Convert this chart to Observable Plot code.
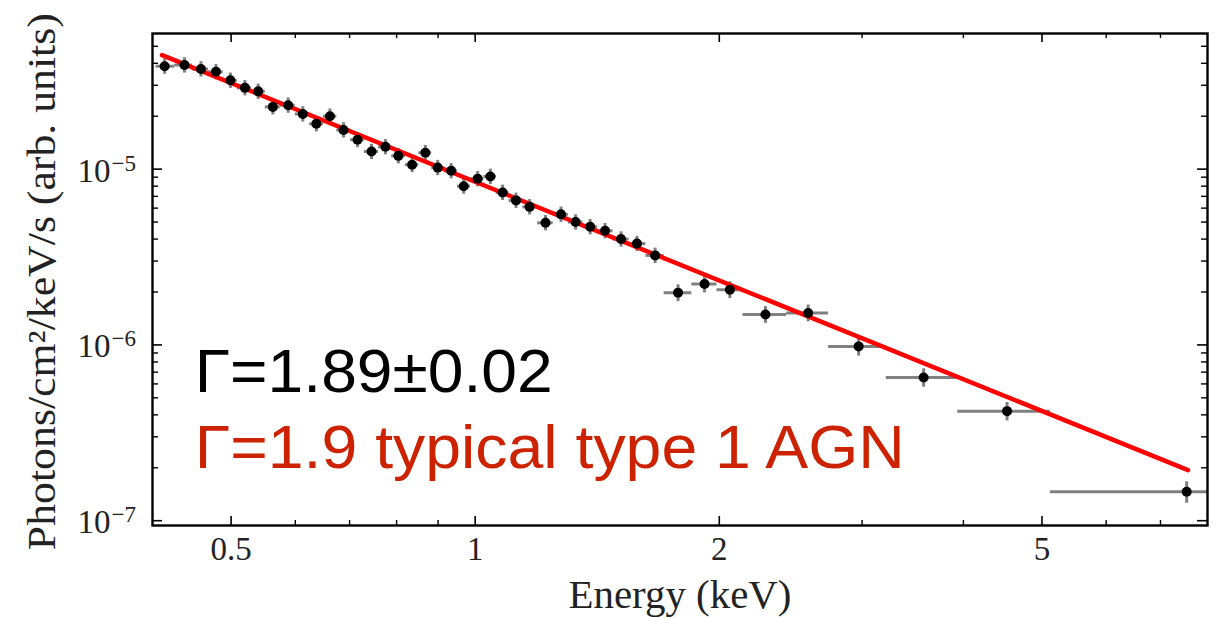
<!DOCTYPE html>
<html>
<head>
<meta charset="utf-8">
<script src="https://cdn.jsdelivr.net/npm/d3@7"></script>
<script src="https://cdn.jsdelivr.net/npm/@observablehq/plot@0.6"></script>
<style>
  html, body { margin: 0; padding: 0; background: #ffffff; }
  #chart svg { display: block; }
</style>
</head>
<body>
<div id="chart"></div>
<script>
// ---- data ----
const energy = [0.414, 0.438, 0.459, 0.479, 0.499, 0.520, 0.540, 0.563, 0.588, 0.613,
  0.637, 0.662, 0.688, 0.716, 0.745, 0.775, 0.804, 0.836, 0.868, 0.899,
  0.934, 0.968, 1.007, 1.044, 1.081, 1.123, 1.167, 1.221, 1.276, 1.330,
  1.386, 1.446, 1.513, 1.583, 1.667, 1.779, 1.918, 2.061, 2.280, 2.574,
  2.971, 3.573, 4.528, 7.541];
const flux = [3.85e-5, 3.91e-5, 3.71e-5, 3.58e-5, 3.20e-5, 2.90e-5, 2.77e-5, 2.26e-5, 2.31e-5, 2.06e-5,
  1.81e-5, 2.00e-5, 1.67e-5, 1.47e-5, 1.26e-5, 1.34e-5, 1.19e-5, 1.06e-5, 1.24e-5, 1.02e-5,
  9.78e-6, 8.00e-6, 8.81e-6, 9.09e-6, 7.37e-6, 6.64e-6, 6.10e-6, 4.95e-6, 5.53e-6, 5.00e-6,
  4.70e-6, 4.46e-6, 4.00e-6, 3.77e-6, 3.23e-6, 1.98e-6, 2.22e-6, 2.06e-6, 1.49e-6, 1.52e-6,
  9.81e-7, 6.53e-7, 4.20e-7, 1.46e-7];
const binEdges = [0.404, 0.426, 0.448, 0.469, 0.489, 0.509, 0.530, 0.551, 0.575, 0.600,
  0.625, 0.650, 0.675, 0.702, 0.730, 0.760, 0.789, 0.820, 0.852, 0.884,
  0.917, 0.951, 0.987, 1.025, 1.062, 1.101, 1.145, 1.194, 1.248, 1.303,
  1.358, 1.416, 1.479, 1.548, 1.624, 1.710, 1.850, 1.987, 2.139, 2.421,
  2.728, 3.213, 3.936, 5.121, 8.0];
const fracErr = [0.10, 0.10, 0.10, 0.10, 0.10, 0.10, 0.10, 0.10, 0.10, 0.10,
  0.10, 0.10, 0.10, 0.10, 0.10, 0.10, 0.10, 0.10, 0.10, 0.10,
  0.10, 0.10, 0.10, 0.10, 0.10, 0.10, 0.10, 0.10, 0.10, 0.10,
  0.10, 0.10, 0.10, 0.10, 0.10, 0.11, 0.11, 0.11, 0.11, 0.11,
  0.12, 0.12, 0.12, 0.14];
const modelEnergy = [0.411, 7.57];
const modelFlux = [4.45e-5, 1.94e-7];

const xMajorTicks = [0.5, 1, 2, 5];
const xMajorLabels = ["0.5", "1", "2", "5"];
const xMinorTicks = [0.6, 0.7, 0.8, 0.9, 3, 4, 6, 7];
const yMajorTicks = [1e-7, 1e-6, 1e-5];
const yMajorExponents = ["\u22127", "\u22126", "\u22125"];
const yMinorTicks = [2e-7, 3e-7, 4e-7, 5e-7, 6e-7, 7e-7, 8e-7, 9e-7,
  2e-6, 3e-6, 4e-6, 5e-6, 6e-6, 7e-6, 8e-6, 9e-6,
  2e-5, 3e-5, 4e-5, 5e-5];

const xTitle = "Energy (keV)";
const yTitle = "Photons/cm\u00B2/keV/s (arb. units)";
const fitText = "\u0393=1.89\u00B10.02";
const typicalText = "\u0393=1.9 typical type 1 AGN";

// ---- tables built from the arrays ----
const rows = energy.map((e, i) => ({
  e, f: flux[i], lo: binEdges[i], hi: binEdges[i + 1],
  f1: flux[i] * (1 - fracErr[i]), f2: flux[i] * (1 + fracErr[i])
}));
const model = modelEnergy.map((e, i) => ({e, f: modelFlux[i]}));

const W = 1223, H = 618;
const mL = 152, mR = 16, mT = 33, mB = 93;
const innerW = W - mL - mR, innerH = H - mT - mB;
const serif = "'Liberation Serif', 'DejaVu Serif', serif";
const sans = "'Liberation Sans', Arial, Helvetica, sans-serif";
const tickColor = "#000";

const svg = Plot.plot({
  width: W, height: H,
  marginLeft: mL, marginRight: mR, marginTop: mT, marginBottom: mB,
  style: {background: "#ffffff", overflow: "visible"},
  x: {type: "log", domain: [0.4, 8], axis: null},
  y: {type: "log", domain: [9.39e-8, 5.91e-5], axis: null},
  marks: [
    // error bars
    Plot.ruleY(rows, {y: "f", x1: "lo", x2: "hi", stroke: "#808080", strokeWidth: 3}),
    Plot.ruleX(rows, {x: "e", y1: "f1", y2: "f2", stroke: "#808080", strokeWidth: 3}),
    // model
    Plot.line(model, {x: "e", y: "f", stroke: "#ff0000", strokeWidth: 4.5}),
    // data points
    Plot.dot(rows, {x: "e", y: "f", r: 5, fill: "#000", stroke: "none"}),
    // inward ticks: bottom / top
    Plot.ruleX(xMajorTicks, {x: d => d, insetTop: innerH - 9, stroke: tickColor, strokeWidth: 1.6}),
    Plot.ruleX(xMajorTicks, {x: d => d, insetBottom: innerH - 9, stroke: tickColor, strokeWidth: 1.6}),
    Plot.ruleX(xMinorTicks, {x: d => d, insetTop: innerH - 5, stroke: tickColor, strokeWidth: 1.4}),
    Plot.ruleX(xMinorTicks, {x: d => d, insetBottom: innerH - 5, stroke: tickColor, strokeWidth: 1.4}),
    // inward ticks: left / right
    Plot.ruleY(yMajorTicks, {y: d => d, insetRight: innerW - 10, stroke: tickColor, strokeWidth: 1.6}),
    Plot.ruleY(yMajorTicks, {y: d => d, insetLeft: innerW - 10, stroke: tickColor, strokeWidth: 1.6}),
    Plot.ruleY(yMinorTicks, {y: d => d, insetRight: innerW - 6, stroke: tickColor, strokeWidth: 1.4}),
    Plot.ruleY(yMinorTicks, {y: d => d, insetLeft: innerW - 6, stroke: tickColor, strokeWidth: 1.4}),
    Plot.frame({stroke: "#000", strokeWidth: 2.4}),
    // tick labels
    Plot.text(xMajorTicks, {x: d => d, frameAnchor: "bottom", dy: 24, text: (d, i) => xMajorLabels[i],
      fontFamily: serif, fontSize: 33, lineAnchor: "middle", fill: "#222"}),
    Plot.text(yMajorTicks, {y: d => d, frameAnchor: "left", dx: -42, dy: 2, text: () => "10",
      textAnchor: "end", fontFamily: serif, fontSize: 33, lineAnchor: "middle", fill: "#222"}),
    Plot.text(yMajorTicks, {y: d => d, frameAnchor: "left", dx: -41, dy: -6, text: (d, i) => yMajorExponents[i],
      textAnchor: "start", fontFamily: serif, fontSize: 23, lineAnchor: "middle", fill: "#222"}),
    // axis titles
    Plot.text([xTitle], {frameAnchor: "bottom", dy: 70, text: d => d, fontFamily: serif, fontSize: 39,
      lineAnchor: "middle", fill: "#222"}),
    Plot.text([yTitle], {frameAnchor: "left", y: () => 6.8e-8, dx: -110, rotate: -90, text: d => d,
      textAnchor: "start", fontFamily: serif, fontSize: 40, lineAnchor: "middle", fill: "#222"}),
    // annotations
    Plot.text([fitText], {x: 0.451, y: 5.39e-7, text: d => d, textAnchor: "start", lineAnchor: "bottom",
      fontFamily: sans, fontSize: 62, fill: "#000"}),
    Plot.text([typicalText], {x: 0.451, y: 2.0e-7, text: d => d, textAnchor: "start", lineAnchor: "bottom",
      fontFamily: sans, fontSize: 62, fill: "#cc2200"})
  ]
});

const targetLengths = {};
targetLengths[fitText] = 358;
targetLengths[typicalText] = 710;
targetLengths[xTitle] = 223;
targetLengths[yTitle] = 537;
d3.select(svg).selectAll("text").each(function () {
  const t = this.textContent;
  if (Object.prototype.hasOwnProperty.call(targetLengths, t)) {
    this.setAttribute("textLength", targetLengths[t]);
    this.setAttribute("lengthAdjust", "spacingAndGlyphs");
  }
});

document.getElementById("chart").appendChild(svg);
</script>
</body>
</html>
